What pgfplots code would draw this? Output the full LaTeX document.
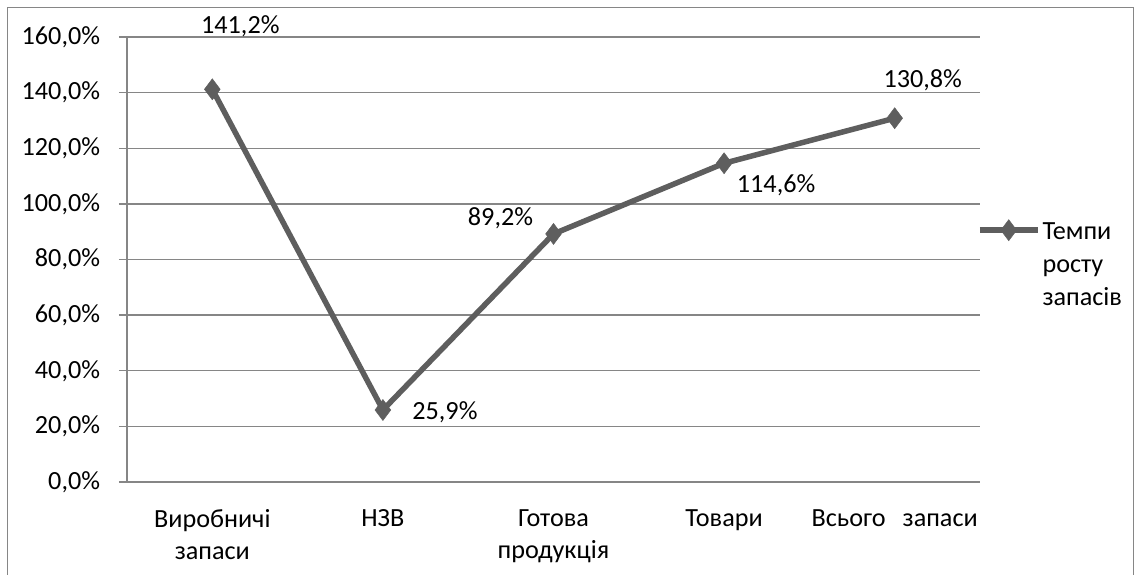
\documentclass[border=0pt]{standalone}
\usepackage{pgfplots}
\pgfplotsset{compat=1.18}
\usepackage{fontspec}
\setmainfont{Carlito}
\definecolor{seriesgray}{RGB}{94,94,94}
\definecolor{gridgray}{RGB}{134,134,134}
\definecolor{framegray}{RGB}{134,134,134}

\begin{document}
\fontsize{26.2}{32}\selectfont
\begin{tikzpicture}[x=1pt,y=1pt]
\begin{axis}[
  at={(127pt,92pt)}, anchor=south west,
  width=853pt, height=445pt, scale only axis,
  xmin=-0.5, xmax=4.5, ymin=0, ymax=160,
  ytick={0,20,...,160},
  xtick={0,1,2,3,4},
  xticklabels={{Виробничі\\запаси},{НЗВ},{Готова\\продукція},{Товари},{Всього\hspace{17pt}запаси}},
  minor xtick={-0.5,0.5,1.5,2.5,3.5,4.5},
  xtick style={draw=none},
  minor tick length=8pt,
  major tick length=8pt,
  tick align=outside,
  x tick label style={align=center, yshift=-11pt, font=\fontsize{26.2}{32}\selectfont},
  yticklabel={\pgfmathprintnumber[fixed,fixed zerofill,precision=1,use comma,assume math mode=true]{\tick}\%},
  y tick label style={xshift=-10pt},
  ymajorgrids,
  grid style={gridgray, line width=1.3pt},
  axis line style={gridgray, line width=1.3pt},
  every tick/.style={gridgray, line width=1.3pt},
  minor x tick style={gridgray, line width=1.3pt},
  axis x line*=bottom,
  axis y line*=left,
  clip=false,
  legend style={draw=none, fill=none, at={(1,0.585)}, anchor=north west,
    xshift=-3pt, yshift=7pt,
    inner sep=0pt, outer sep=0pt, font=\fontsize{26.2}{33}\selectfont},
  legend cell align=left,
  legend image code/.code={%
    \draw[mark repeat=2,mark phase=2] plot coordinates {(0pt,0pt) (29pt,0pt) (58pt,0pt)};},
]
\addplot[seriesgray, line width=5.5pt, mark=diamond*, mark size=10.5pt,
  mark options={solid, line width=0.5pt, fill=seriesgray}]
  coordinates {(0,141.2) (1,25.9) (2,89.2) (3,114.6) (4,130.8)};
\addlegendentry{\begin{tabular}[t]{@{}l@{}}Темпи\\[0pt]росту\\[0pt]запасів\end{tabular}}
% value labels
\node at (axis cs:0,141.2) [xshift=28pt, yshift=63pt] {141,2\%};
\node at (axis cs:1,25.9)  [xshift=62pt, yshift=-2pt] {25,9\%};
\node at (axis cs:2,89.2)  [xshift=-53pt, yshift=16pt] {89,2\%};
\node at (axis cs:3,114.6) [xshift=52pt, yshift=-22pt] {114,6\%};
\node at (axis cs:4,130.8) [xshift=28pt, yshift=38pt] {130,8\%};
\end{axis}
% outer chart frame (open at the bottom edge of the page)
\draw[framegray,line width=1.2pt] (7.5,-10) -- (7.5,566.5) -- (1133.5,566.5) -- (1133.5,-10);
\pgfresetboundingbox
\path[use as bounding box] (0,0) rectangle (1142,574);
\end{tikzpicture}
\end{document}
